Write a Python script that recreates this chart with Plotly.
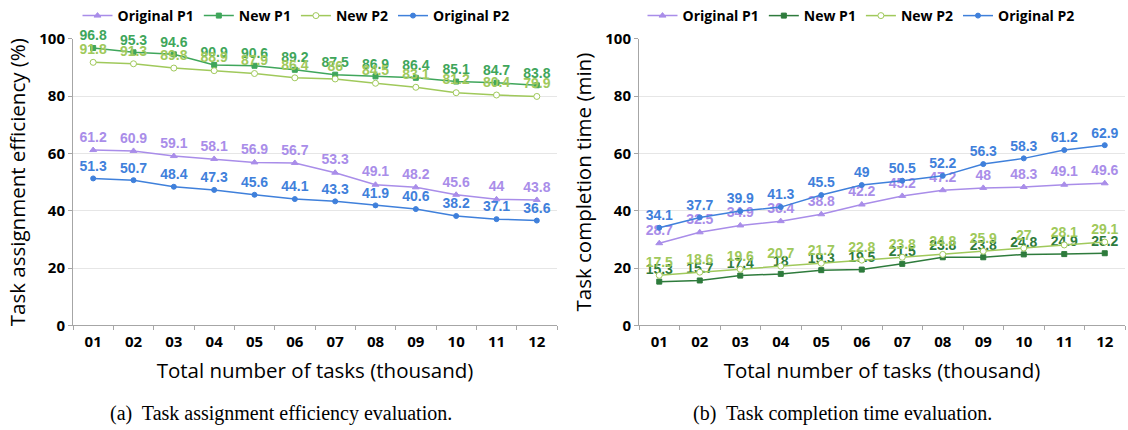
import plotly.graph_objects as go

categories = ["01", "02", "03", "04", "05", "06", "07", "08", "09", "10", "11", "12"]

# Left: task assignment efficiency (%)
eff_original_p1 = [61.2, 60.9, 59.1, 58.1, 56.9, 56.7, 53.3, 49.1, 48.2, 45.6, 44, 43.8]
eff_new_p1 = [96.8, 95.3, 94.6, 90.9, 90.6, 89.2, 87.5, 86.9, 86.4, 85.1, 84.7, 83.8]
eff_new_p2 = [91.8, 91.3, 89.8, 88.9, 87.9, 86.4, 86, 84.5, 83.1, 81.2, 80.4, 79.9]
eff_original_p2 = [51.3, 50.7, 48.4, 47.3, 45.6, 44.1, 43.3, 41.9, 40.6, 38.2, 37.1, 36.6]

# Right: task completion time (min)
time_original_p1 = [28.7, 32.5, 34.9, 36.4, 38.8, 42.2, 45.2, 47.2, 48, 48.3, 49.1, 49.6]
time_new_p1 = [15.3, 15.7, 17.4, 18, 19.3, 19.5, 21.5, 23.8, 23.8, 24.8, 24.9, 25.2]
time_new_p2 = [17.5, 18.6, 19.6, 20.7, 21.7, 22.8, 23.8, 24.8, 25.9, 27, 28.1, 29.1]
time_original_p2 = [34.1, 37.7, 39.9, 41.3, 45.5, 49, 50.5, 52.2, 56.3, 58.3, 61.2, 62.9]

series_names = ["Original P1", "New P1", "New P2", "Original P2"]

PURPLE = "#a98de9"
GREEN_L = "#3fa65b"
GREEN_R = "#2e7b3c"
LIGHTG = "#a0c95b"
BLUE = "#3f80db"

fig = go.Figure()

def add_series(name, y, color, symbol, fill, xa, ya, legend, msize=6):
    fig.add_trace(go.Scatter(
        x=categories, y=y, name=name, mode="lines+markers+text",
        text=[str(v) for v in y], textposition="top center",
        textfont=dict(family="Liberation Sans", size=14, color=color, weight="bold"),
        line=dict(color=color, width=1.5),
        marker=dict(symbol=symbol, size=msize, color=fill, line=dict(color=color, width=1)),
        xaxis=xa, yaxis=ya, legend=legend, cliponaxis=False,
    ))

# left
add_series(series_names[0], eff_original_p1, PURPLE, "triangle-up", PURPLE, "x", "y", "legend")
add_series(series_names[1], eff_new_p1, GREEN_L, "square", GREEN_L, "x", "y", "legend", 5)
add_series(series_names[2], eff_new_p2, LIGHTG, "circle", "white", "x", "y", "legend")
add_series(series_names[3], eff_original_p2, BLUE, "circle", BLUE, "x", "y", "legend", 5)
# right
add_series(series_names[0], time_original_p1, PURPLE, "triangle-up", PURPLE, "x2", "y2", "legend2")
add_series(series_names[1], time_new_p1, GREEN_R, "square", GREEN_R, "x2", "y2", "legend2", 5)
add_series(series_names[2], time_new_p2, LIGHTG, "circle", "white", "x2", "y2", "legend2")
add_series(series_names[3], time_original_p2, BLUE, "circle", BLUE, "x2", "y2", "legend2", 5)

W, H = 1128, 430
ybot = (H - 325) / H
ytop = (H - 37) / H

xcommon = dict(
    type="category", showgrid=False, showline=True, linecolor="#a6a6a6", linewidth=1,
    ticks="outside", tickson="boundaries", ticklen=4, tickcolor="#a6a6a6",
    ticklabelstandoff=3,
    tickfont=dict(family="Open Sans", size=15, color="black", weight="bold"),
    title=dict(text="Total number of tasks (thousand)",
               font=dict(family="Open Sans", size=20.5, color="black"), standoff=13),
    range=[-0.5, 11.5], automargin=False,
)
ycommon = dict(
    range=[0, 100], tickvals=[0, 20, 40, 60, 80, 100], showgrid=True, gridcolor="#e6e6e6",
    showline=True, linecolor="#a6a6a6", linewidth=1, ticks="outside", ticklen=4,
    tickcolor="#a6a6a6", zeroline=False, automargin=False,
    tickfont=dict(family="Open Sans", size=15, color="black", weight="bold"),
)

legcommon = dict(orientation="h", xanchor="center", yanchor="middle", y=(H - 14) / H,
                 font=dict(family="Open Sans", size=14, color="black", weight="bold"),
                 bgcolor="rgba(0,0,0,0)", itemwidth=30, tracegroupgap=0)

fig.update_layout(
    width=W, height=H, margin=dict(l=0, r=0, t=0, b=0),
    paper_bgcolor="white", plot_bgcolor="white",
    xaxis=dict(domain=[73 / W, 557 / W], anchor="y", **xcommon),
    yaxis=dict(domain=[ybot, ytop], anchor="x",
               title=dict(text="Task assignment efficiency (%)",
                          font=dict(family="Open Sans", size=20.5, color="black"), standoff=8),
               **ycommon),
    xaxis2=dict(domain=[639 / W, 1125 / W], anchor="y2", **xcommon),
    yaxis2=dict(domain=[ybot, ytop], anchor="x2",
                title=dict(text="Task completion time (min)",
                           font=dict(family="Open Sans", size=20.5, color="black"), standoff=8),
                **ycommon),
    legend=dict(x=296 / W, **legcommon),
    legend2=dict(x=861 / W, **legcommon),
    annotations=[
        dict(text="(a)  Task assignment efficiency evaluation.", x=281 / W, y=(H - 413) / H,
             xref="paper", yref="paper", showarrow=False, xanchor="center", yanchor="middle",
             font=dict(family="Liberation Serif", size=20, color="black")),
        dict(text="(b)  Task completion time evaluation.", x=842 / W, y=(H - 413) / H,
             xref="paper", yref="paper", showarrow=False, xanchor="center", yanchor="middle",
             font=dict(family="Liberation Serif", size=20, color="black")),
    ],
)

fig.write_html("out.html")
